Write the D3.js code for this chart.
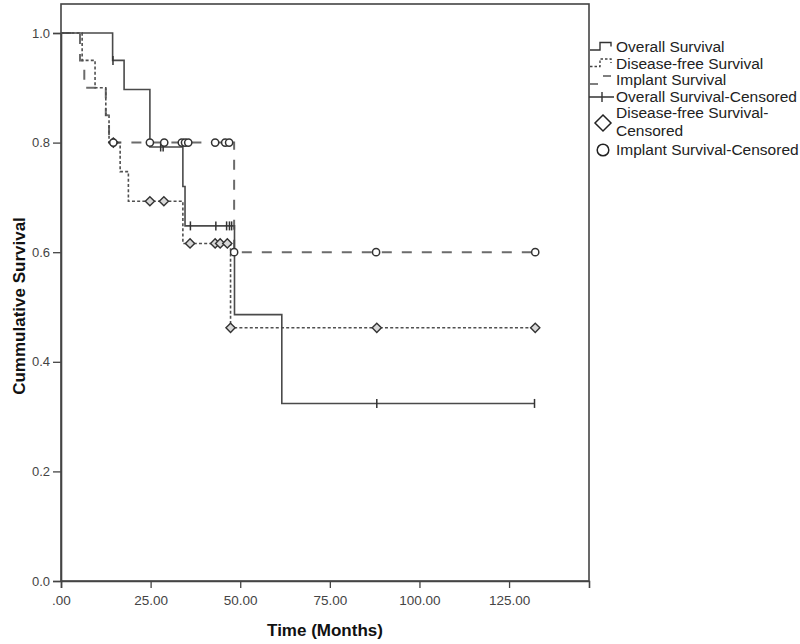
<!DOCTYPE html>
<html>
<head>
<meta charset="utf-8">
<script src="https://cdn.jsdelivr.net/npm/d3@7"></script>
<style>
  html, body { margin: 0; padding: 0; background: #fff; }
  svg { display: block; font-family: "Liberation Sans", Arial, sans-serif; }
</style>
</head>
<body>
<svg id="chart" width="800" height="644"></svg>
<script>
// ---------- Data ----------
// Overall Survival (solid step line)
const overallTime = [0, 14.4, 17.6, 24.8, 34.0, 34.6, 48.4, 61.6, 132.1];
const overallSurv = [1.0, 0.95, 0.897, 0.792, 0.720, 0.648, 0.486, 0.324, 0.324];
const overallCensTime = [14.5, 27.8, 28.5, 36.1, 43.2, 46.2, 47.0, 47.6, 88.1, 132.1];
const overallCensSurv = [0.95, 0.792, 0.792, 0.648, 0.648, 0.648, 0.648, 0.648, 0.324, 0.324];

// Disease-free Survival (dotted step line)
const dfsTime = [0, 5.9, 9.5, 12.5, 13.4, 16.5, 18.8, 34.0, 47.3, 132.3];
const dfsSurv = [1.0, 0.95, 0.90, 0.85, 0.80, 0.747, 0.693, 0.616, 0.462, 0.462];
const dfsCensTime = [14.6, 24.8, 28.7, 36.0, 43.0, 44.4, 46.4, 47.3, 88.1, 132.3];
const dfsCensSurv = [0.80, 0.693, 0.693, 0.616, 0.616, 0.616, 0.616, 0.462, 0.462, 0.462];

// Implant Survival (dashed step line)
const impTime = [0, 5.3, 6.5, 12.5, 13.4, 48.3, 132.3];
const impSurv = [1.0, 0.95, 0.90, 0.85, 0.80, 0.60, 0.60];
const impCensTime = [14.6, 24.8, 28.8, 33.7, 34.6, 35.5, 43.0, 45.8, 46.9, 48.3, 87.9, 132.3];
const impCensSurv = [0.80, 0.80, 0.80, 0.80, 0.80, 0.80, 0.80, 0.80, 0.80, 0.60, 0.60, 0.60];

// Axis ticks
const xTickValues = [0, 25, 50, 75, 100, 125];
const xTickLabels = [".00", "25.00", "50.00", "75.00", "100.00", "125.00"];
const yTickValues = [0, 0.2, 0.4, 0.6, 0.8, 1.0];
const yTickLabels = ["0.0", "0.2", "0.4", "0.6", "0.8", "1.0"];

// Legend
const legendLabels = [
  ["Overall Survival"],
  ["Disease-free Survival"],
  ["Implant Survival"],
  ["Overall Survival-Censored"],
  ["Disease-free Survival-", "Censored"],
  ["Implant Survival-Censored"]
];

// ---------- Layout ----------
const plotLeft = 61, plotRight = 589, plotTop = 4, plotBottom = 581;
const svg = d3.select("#chart");

const x = d3.scaleLinear().domain([0, 147.3]).range([plotLeft, plotRight]);
const y = d3.scaleLinear().domain([0, 1]).range([plotBottom, 33]);

// Frame
svg.append("rect")
  .attr("x", plotLeft).attr("y", plotTop)
  .attr("width", plotRight - plotLeft).attr("height", plotBottom - plotTop)
  .attr("fill", "none").attr("stroke", "#444").attr("stroke-width", 1.6);

// Axes
const yAxis = d3.axisLeft(y).tickValues(yTickValues)
  .tickFormat((d, i) => yTickLabels[i]).tickSize(8).tickPadding(3);
const gy = svg.append("g").attr("transform", `translate(${plotLeft},0)`).call(yAxis);
gy.select(".domain").attr("stroke", "#444").attr("stroke-width", 1.6);
gy.selectAll(".tick line").attr("stroke", "#444").attr("stroke-width", 1.3);
gy.selectAll(".tick text").attr("fill", "#444").style("font-size", "13px")
  .style("font-family", "'Liberation Sans', Arial, sans-serif");

const xAxis = d3.axisBottom(x).tickValues(xTickValues)
  .tickFormat((d, i) => xTickLabels[i]).tickSize(7).tickPadding(7);
const gx = svg.append("g").attr("transform", `translate(0,${plotBottom})`).call(xAxis);
gx.select(".domain").attr("stroke", "#444").attr("stroke-width", 1.6);
gx.selectAll(".tick line").attr("stroke", "#444").attr("stroke-width", 1.3);
gx.selectAll(".tick text").attr("fill", "#444").style("font-size", "13.5px")
  .style("font-family", "'Liberation Sans', Arial, sans-serif");

// Axis titles
svg.append("text")
  .attr("x", (plotLeft + plotRight) / 2).attr("y", 636)
  .attr("text-anchor", "middle")
  .style("font-size", "17px").style("font-weight", "bold").attr("fill", "#111")
  .text("Time (Months)");

svg.append("text")
  .attr("transform", "translate(25,306) rotate(-90)")
  .attr("text-anchor", "middle")
  .style("font-size", "17px").style("font-weight", "bold").attr("fill", "#111")
  .text("Cummulative Survival");

// ---------- Curves ----------
const stepLine = d3.line().x(d => x(d[0])).y(d => y(d[1])).curve(d3.curveStepAfter);
const zip = (a, b) => a.map((v, i) => [v, b[i]]);

const series = [
  { t: impTime, s: impSurv, stroke: "#6b6b6b", width: 2, dash: "10,10" },
  { t: dfsTime, s: dfsSurv, stroke: "#505050", width: 1.6, dash: "3,2.2" },
  { t: overallTime, s: overallSurv, stroke: "#4a4a4a", width: 1.6, dash: null }
];
series.forEach(sr => {
  svg.append("path")
    .attr("d", stepLine(zip(sr.t, sr.s)))
    .attr("fill", "none")
    .attr("stroke", sr.stroke)
    .attr("stroke-width", sr.width)
    .attr("stroke-dasharray", sr.dash);
});

// ---------- Censor markers ----------
// Overall: "+" vertical ticks
svg.append("g").selectAll("line")
  .data(zip(overallCensTime, overallCensSurv)).join("line")
  .attr("x1", d => x(d[0])).attr("x2", d => x(d[0]))
  .attr("y1", d => y(d[1]) - 4.5).attr("y2", d => y(d[1]) + 4.5)
  .attr("stroke", "#333").attr("stroke-width", 1.5);

// Disease-free: diamonds
const dr = 4.6;
svg.append("g").selectAll("path")
  .data(zip(dfsCensTime, dfsCensSurv)).join("path")
  .attr("d", d => {
    const cx = x(d[0]), cy = y(d[1]);
    return `M${cx},${cy - dr}L${cx + dr},${cy}L${cx},${cy + dr}L${cx - dr},${cy}Z`;
  })
  .attr("fill", "#d8d8d8").attr("stroke", "#333").attr("stroke-width", 1.4);

// Implant: circles
svg.append("g").selectAll("circle")
  .data(zip(impCensTime, impCensSurv)).join("circle")
  .attr("cx", d => x(d[0])).attr("cy", d => y(d[1])).attr("r", 3.6)
  .attr("fill", "#fff").attr("stroke", "#333").attr("stroke-width", 1.5);

// ---------- Legend ----------
const lg = svg.append("g");
const legendTextX = 616;
const legendBaselines = [[52], [68.5], [85], [102], [117.5, 135.5], [155]];
legendLabels.forEach((lines, i) => {
  lines.forEach((ln, j) => {
    lg.append("text")
      .attr("x", legendTextX).attr("y", legendBaselines[i][j])
      .style("font-size", "15.5px").attr("fill", "#222")
      .text(ln);
  });
});
// symbols
lg.append("path").attr("d", "M590,50H600V42.5H611V46.5")
  .attr("fill", "none").attr("stroke", "#333").attr("stroke-width", 1.4);
lg.append("path").attr("d", "M590,66.5H600V59H611V63")
  .attr("fill", "none").attr("stroke", "#444").attr("stroke-width", 1.4).attr("stroke-dasharray", "2.5,2");
lg.append("path").attr("d", "M590,84H598M603,76H611")
  .attr("fill", "none").attr("stroke", "#555").attr("stroke-width", 1.6);
lg.append("path").attr("d", "M589,97H614M602,92V102")
  .attr("fill", "none").attr("stroke", "#333").attr("stroke-width", 1.4);
lg.append("path").attr("d", "M603,115L611,123L603,131L595,123Z")
  .attr("fill", "#fff").attr("stroke", "#222").attr("stroke-width", 1.5);
lg.append("circle").attr("cx", 603).attr("cy", 150).attr("r", 5.8)
  .attr("fill", "#fff").attr("stroke", "#222").attr("stroke-width", 1.5);
</script>
</body>
</html>
